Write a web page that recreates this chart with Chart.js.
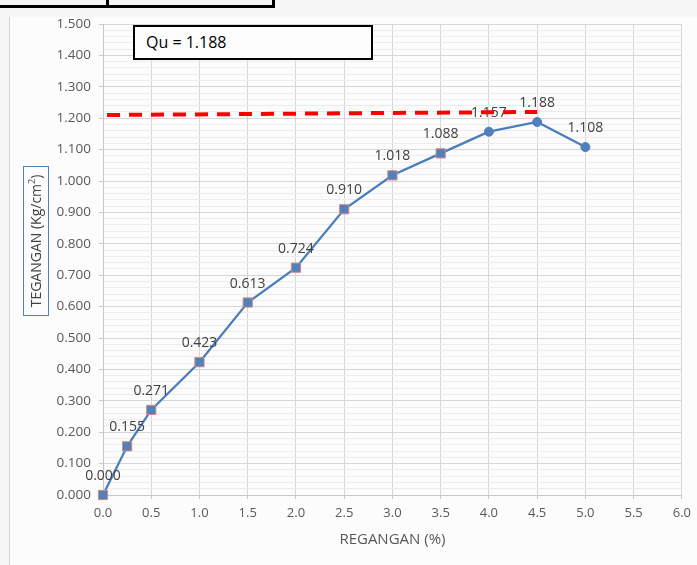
<!DOCTYPE html>
<html>
<head>
<meta charset="utf-8">
<title>Tegangan - Regangan</title>
<script src="https://cdn.jsdelivr.net/npm/chart.js@4/dist/chart.umd.min.js"></script>
<style>
    html, body { margin: 0; padding: 0; }
    body { width: 697px; height: 565px; background: #f6f6f6; position: relative; overflow: hidden; font-family: "Open Sans", sans-serif; }
    #panel { position: absolute; left: 9px; top: 17px; width: 688px; height: 548px; background: #fcfcfc; border-left: 1px solid #d6d6d6; }
    #wrap { position: absolute; left: 0; top: 0; width: 697px; height: 565px; }
    #tabel { position: absolute; left: -3px; top: -25px; width: 272px; height: 27px; border: 3px solid #000; }
    #tabel div { position: absolute; left: 106px; top: 0; width: 3px; height: 100%; background: #000; }
    #qu { position: absolute; left: 133px; top: 25px; width: 225px; height: 31px; border: 2px solid #000; background: #fdfdfd;
          font-family: "Open Sans", sans-serif; font-size: 16px; line-height: 31px; padding-left: 11px; box-sizing: content-box; color: #000; }
</style>
</head>
<body>
<div id="panel"></div>
<div id="wrap"><canvas id="myChart" width="697" height="565"></canvas></div>
<div id="tabel"><div></div></div>
<div id="qu"></div>
<script>
// Data uji tekan bebas
var regangan = [0, 0.25, 0.5, 1.0, 1.5, 2.0, 2.5, 3.0, 3.5, 4.0, 4.5, 5.0];
var tegangan = [0.000, 0.155, 0.271, 0.423, 0.613, 0.724, 0.910, 1.018, 1.088, 1.157, 1.188, 1.108];
var bentukTitik = ['rect', 'rect', 'rect', 'rect', 'rect', 'rect', 'rect', 'rect', 'rect', 'circle', 'circle', 'circle'];
var quNilai = 1.188;
// garis putus-putus merah
var garisX = [0, 4.5];
var garisY = [1.210, 1.220];

document.getElementById('qu').textContent = 'Qu = ' + quNilai.toFixed(3);

var FONT = '"Open Sans", sans-serif';

function isMajor(v) {
    return Math.round(v * 50) % 5 === 0;
}

// label nilai di atas titik + judul sumbu Y dengan kotak
var labelPlugin = {
    id: 'labelNilai',
    afterDatasetDraw: function (chart, args) {
        if (args.index !== 0) return;
        var ctx = chart.ctx;
        var meta = chart.getDatasetMeta(0);
        ctx.save();
        ctx.font = '14px ' + FONT;
        ctx.fillStyle = '#404040';
        ctx.textAlign = 'center';
        ctx.textBaseline = 'middle';
        meta.data.forEach(function (pt, i) {
            ctx.fillText(tegangan[i].toFixed(3), pt.x, pt.y - 19);
        });
        ctx.restore();
    },
    afterDraw: function (chart) {
        var ctx = chart.ctx;
        var cx = 36, cy = 241;
        ctx.save();
        ctx.translate(cx, cy);
        ctx.rotate(-Math.PI / 2);
        ctx.fillStyle = '#404040';
        ctx.textBaseline = 'middle';
        var t1 = 'TEGANGAN (Kg/cm', t2 = ')';
        ctx.font = '14px ' + FONT;
        var w1 = ctx.measureText(t1).width;
        var w2 = ctx.measureText(t2).width;
        ctx.font = '9px ' + FONT;
        var ws = ctx.measureText('2').width;
        var x0 = -(w1 + ws + w2) / 2;
        ctx.textAlign = 'left';
        ctx.font = '14px ' + FONT;
        ctx.fillText(t1, x0, 1);
        ctx.fillText(t2, x0 + w1 + ws, 1);
        ctx.font = '9px ' + FONT;
        ctx.fillText('2', x0 + w1, -4);
        ctx.strokeStyle = '#4f81bd';
        ctx.lineWidth = 1;
        ctx.strokeRect(-74.5, -12.5, 149, 25);
        ctx.restore();
    }
};

var ctx = document.getElementById('myChart').getContext('2d');
var myChart = new Chart(ctx, {
    type: 'line',
    data: {
        datasets: [{
            label: 'Tegangan',
            data: regangan.map(function (x, i) { return { x: x, y: tegangan[i] }; }),
            borderColor: '#4a7ebb',
            backgroundColor: '#4f81bd',
            borderWidth: 2.25,
            pointStyle: bentukTitik,
            pointRadius: bentukTitik.map(function (s) { return s === 'rect' ? 6.5 : 4.5; }),
            pointBorderColor: bentukTitik.map(function (s) { return s === 'rect' ? '#d7867f' : '#4f81bd'; }),
            pointBorderWidth: 1,
            pointBackgroundColor: '#4f81bd',
            tension: 0,
            clip: false,
            order: 1
        }, {
            label: 'Qu',
            data: garisX.map(function (x, i) { return { x: x, y: garisY[i] }; }),
            borderColor: '#ff0000',
            borderWidth: 4,
            borderDash: [13, 9],
            borderDashOffset: -4,
            pointRadius: 0,
            clip: false,
            order: 0
        }]
    },
    options: {
        responsive: false,
        animation: false,
        layout: { padding: { left: 0, right: 15, top: 24, bottom: 0 } },
        plugins: {
            legend: { display: false },
            tooltip: { enabled: false }
        },
        scales: {
            x: {
                type: 'linear',
                min: 0,
                max: 6,
                afterFit: function (s) { s.height = 70; },
                ticks: {
                    stepSize: 0.5,
                    color: '#595959',
                    font: { family: FONT, size: 13 },
                    padding: 6,
                    callback: function (v) { return v.toFixed(1); }
                },
                grid: { color: '#d6d6d6', tickLength: 4, tickColor: '#c8c8c8' },
                border: { color: '#c8c8c8' },
                title: {
                    display: true,
                    text: 'REGANGAN (%)',
                    color: '#595959',
                    font: { family: FONT, size: 15 },
                    padding: { top: 0, bottom: 16 }
                }
            },
            y: {
                min: 0,
                max: 1.5,
                afterFit: function (s) { s.width = 103; },
                ticks: {
                    stepSize: 0.02,
                    maxTicksLimit: 1000,
                    autoSkip: false,
                    color: '#595959',
                    font: { family: FONT, size: 13.5 },
                    padding: 8,
                    callback: function (v) { return isMajor(v) ? v.toFixed(3) : ''; }
                },
                grid: {
                    tickLength: 4,
                    color: function (c) { return c.tick && isMajor(c.tick.value) ? '#d6d6d6' : '#ececec'; },
                    tickColor: function (c) { return c.tick && isMajor(c.tick.value) ? '#c8c8c8' : 'rgba(0,0,0,0)'; }
                },
                border: { color: '#c8c8c8' }
            }
        }
    },
    plugins: [labelPlugin]
});
</script>
</body>
</html>
